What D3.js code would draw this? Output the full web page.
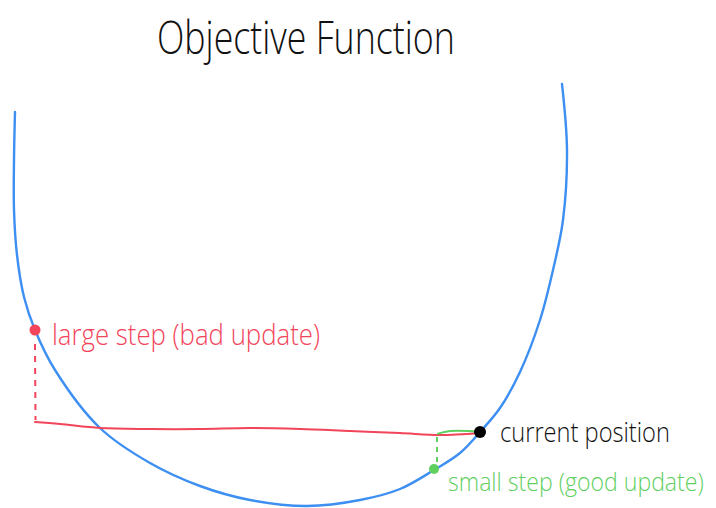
<!DOCTYPE html>
<html><head><meta charset="utf-8">
<script src="https://cdn.jsdelivr.net/npm/d3@7/dist/d3.min.js"></script>
<style>body{margin:0;background:#fff}svg{display:block}</style>
</head><body>
<script>
// Objective function curve (diagram units)
const curveX = [15,14,14,17,24,35,55,100,150,200,250,307,360,400,434,460,480,500,520,540,553,563,567,562];
const curveY = [112,160,210,255,297,330,370,428,463,486,500,506,500,489,470,453,432,408,372,320,270,220,150,84];
// large step path (red)
const bigStepX = [35,60,100,150,200,250,300,350,400,440,480];
const bigStepY = [422,424,428,429,429,428,429,431,433,435,433];
// points
const current = {x:480, y:432};
const largePt = {x:35, y:330};
const smallPt = {x:434, y:469};
const labels = ["Objective Function","large step (bad update)","current position","small step (good update)"];

const W=716,H=508;
const x=d3.scaleLinear().domain([0,716]).range([0,W]);
const y=d3.scaleLinear().domain([0,508]).range([0,H]);
const svg=d3.select("body").append("svg").attr("width",W).attr("height",H);

const blue="#3d8ff2", red="#f2445a", green="#5fcf5f";
const line=d3.line().x(d=>x(d[0])).y(d=>y(d[1])).curve(d3.curveCatmullRom);

svg.append("path").attr("d",line(curveX.map((v,i)=>[v,curveY[i]])))
  .attr("fill","none").attr("stroke",blue).attr("stroke-width",2.4).attr("stroke-linecap","round");

svg.append("path").attr("d",line(bigStepX.map((v,i)=>[v,bigStepY[i]])))
  .attr("fill","none").attr("stroke",red).attr("stroke-width",2).attr("stroke-linecap","round");
// red dashed vertical
svg.append("line").attr("x1",x(largePt.x)).attr("x2",x(largePt.x)+0.5).attr("y1",y(largePt.y+14)).attr("y2",y(420))
  .attr("stroke",red).attr("stroke-width",2).attr("stroke-dasharray","6,6");
// green short horizontal and dashed vertical
svg.append("path").attr("d",line([[437,434],[450,431],[468,431],[478,432]]))
  .attr("fill","none").attr("stroke",green).attr("stroke-width",2);
svg.append("line").attr("x1",x(437)).attr("x2",x(437)).attr("y1",y(437)).attr("y2",y(465))
  .attr("stroke",green).attr("stroke-width",2).attr("stroke-dasharray","5,5");

svg.append("circle").attr("cx",x(largePt.x)).attr("cy",y(largePt.y)).attr("r",5.5).attr("fill",red);
svg.append("circle").attr("cx",x(smallPt.x)).attr("cy",y(smallPt.y)).attr("r",5).attr("fill",green);
svg.append("circle").attr("cx",x(current.x)).attr("cy",y(current.y)).attr("r",6).attr("fill","#000");

const font="'Open Sans', sans-serif";
// label fitted to a target width without textLength: font-size chosen to fit, then stretched vertically
function label(tx, ty, str, size, width, color){
  const t = svg.append("text").text(str)
    .attr("font-family",font).attr("font-weight",300).attr("font-size",size).attr("fill",color);
  const nat = t.node().getComputedTextLength();
  const fs = size*width/nat;
  t.attr("font-size",fs).attr("transform",`translate(${tx},${ty}) scale(1,${(size/fs).toFixed(3)})`);
  return t;
}
label(157,54,labels[0],46,298,"#111");
label(52,345,labels[1],30,268,red);
label(500,442,labels[2],27,170,"#111");
label(448,491,labels[3],25,256,green);
</script>
</body></html>
